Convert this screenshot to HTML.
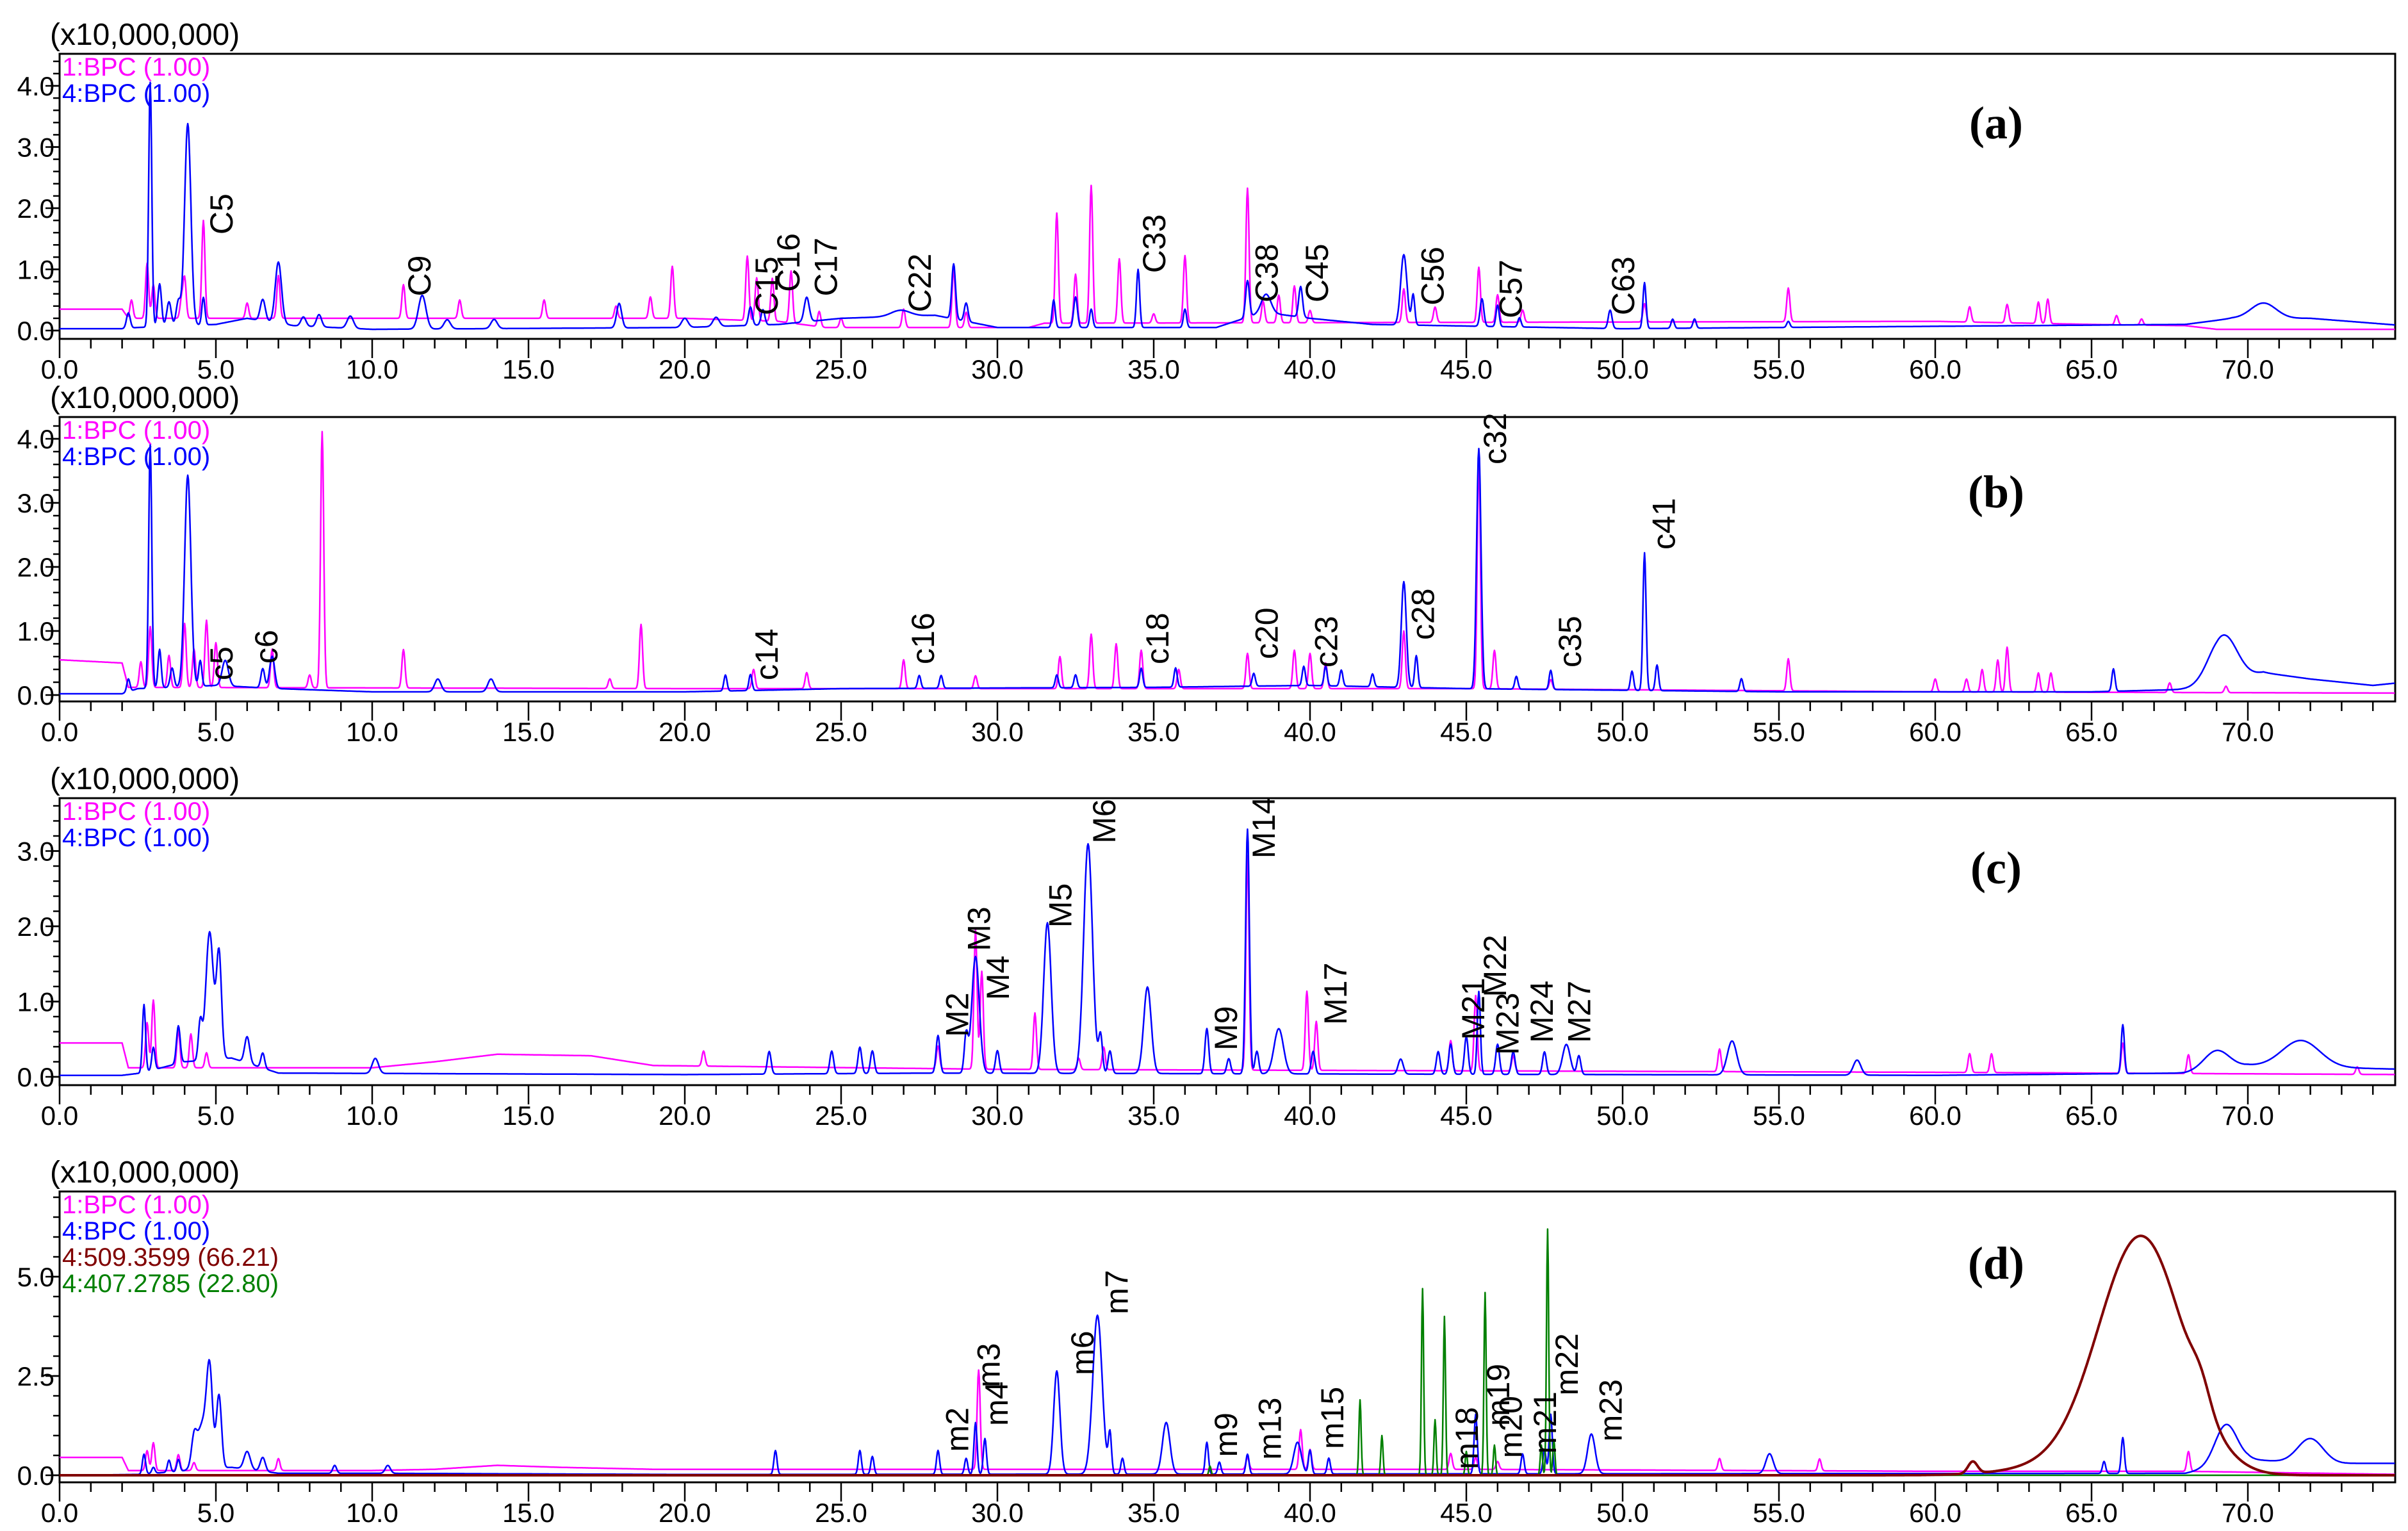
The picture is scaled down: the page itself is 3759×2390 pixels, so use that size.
<!DOCTYPE html>
<html><head><meta charset="utf-8">
<style>
html,body{margin:0;padding:0;background:#fff;}
svg{display:block;}
.tick{font-family:"Liberation Sans Narrow","Liberation Sans",sans-serif;font-size:42px;fill:#000;}
.scl{font-family:"Liberation Sans Narrow","Liberation Sans",sans-serif;font-size:48px;fill:#000;}
.leg{font-family:"Liberation Sans",sans-serif;font-size:40px;}
.ann{font-family:"Liberation Sans",sans-serif;font-size:50px;fill:#000;}
.plab{font-family:"Liberation Serif",serif;font-size:72px;font-weight:bold;fill:#000;}
</style></head>
<body>
<svg id="chart" width="3759" height="2390" viewBox="0 0 3759 2390" xmlns="http://www.w3.org/2000/svg"></svg>
<script>
// ---------- DATA ----------
// panel (a)
const aBlueRt=[2.2,2.9,3.2,3.5,3.8,4.1,4.6,6.5,7.0,7.8,8.3,9.3,11.6,12.4,13.9,17.9,20.0,21.0,22.1,22.5,23.9,26.9,28.6,29.0,31.8,32.5,33.0,34.5,36.0,38.0,38.6,39.7,43.0,43.3,45.5,46.0,46.7,49.6,50.7,51.6,52.3,55.3,70.5];
const aBlueH=[0.25,4.0,0.7,0.4,0.4,3.3,0.45,0.35,1.0,0.15,0.2,0.2,0.55,0.15,0.15,0.4,0.15,0.15,0.3,0.25,0.4,0.1,0.9,0.3,0.45,0.5,0.3,0.95,0.3,0.6,0.3,0.5,1.15,0.5,0.45,0.35,0.15,0.3,0.75,0.15,0.15,0.1,0.25];
const aBlueW=[0.06,0.05,0.06,0.07,0.07,0.1,0.05,0.08,0.1,0.08,0.08,0.1,0.12,0.1,0.1,0.08,0.1,0.1,0.06,0.06,0.08,0.3,0.06,0.06,0.05,0.06,0.05,0.05,0.05,0.06,0.15,0.06,0.1,0.05,0.06,0.05,0.05,0.06,0.05,0.05,0.05,0.05,0.4];
const aBlueBaseX=[0,2,2.5,5,6,7.5,10,20,23,25,28,30,37,38.5,40,42,50,55,68,69.5,72,75];
const aBlueBaseY=[0.03,0.03,0.05,0.1,0.2,0.08,0.02,0.05,0.1,0.2,0.25,0.05,0.05,0.3,0.2,0.1,0.03,0.05,0.1,0.2,0.2,0.08];
const aMagRt=[2.3,2.8,3.0,3.9,4.0,4.6,6.0,7.0,11.0,12.8,15.5,17.8,18.9,19.6,22.0,22.3,22.8,23.4,24.3,25.0,27.0,28.6,29.0,31.9,32.5,33.0,33.9,35.0,36.0,38.0,38.5,39.0,39.5,40.0,43.0,44.0,45.4,46.0,46.8,50.7,55.3,61.1,62.3,63.3,63.6,65.8,66.6];
const aMagH=[0.3,0.9,0.55,0.3,0.65,1.6,0.25,0.7,0.55,0.3,0.3,0.2,0.35,0.85,1.05,0.7,0.7,0.85,0.25,0.15,0.3,0.95,0.25,1.8,0.8,2.25,1.05,0.15,1.1,2.2,0.35,0.45,0.6,0.2,0.55,0.25,0.9,0.45,0.2,0.3,0.55,0.25,0.3,0.35,0.4,0.15,0.1];
const aMagBaseX=[0,2,2.2,4.8,20,23,24.5,31,31.5,60,65,68,69,75];
const aMagBaseY=[0.35,0.35,0.2,0.2,0.2,0.15,0.05,0.05,0.12,0.15,0.1,0.08,0.02,0.02];
// panel (b)
const bBlueRt=[2.2,2.9,3.2,3.6,4.1,4.5,5.3,6.5,6.8,12.1,13.8,21.3,22.1,27.5,28.2,31.9,32.5,34.6,35.7,38.2,39.8,40.5,41.0,42.0,43.0,43.4,45.4,46.6,47.7,50.3,50.7,51.1,53.8,65.7,69.2];
const bBlueH=[0.2,3.8,0.6,0.3,3.3,0.4,0.4,0.3,0.5,0.2,0.2,0.25,0.25,0.2,0.2,0.2,0.2,0.3,0.3,0.2,0.3,0.3,0.25,0.2,1.65,0.5,3.75,0.2,0.3,0.3,2.15,0.4,0.2,0.35,0.8];
const bBlueW=[0.05,0.05,0.05,0.06,0.1,0.05,0.1,0.06,0.08,0.1,0.1,0.05,0.05,0.05,0.05,0.05,0.05,0.05,0.05,0.05,0.05,0.05,0.05,0.05,0.08,0.05,0.07,0.05,0.05,0.05,0.05,0.05,0.05,0.05,0.45];
const bBlueBaseX=[0,2,2.5,5,7,10,20,25,35,40,45,55,65,69,70.5,72,74,75];
const bBlueBaseY=[0.02,0.02,0.1,0.15,0.1,0.05,0.05,0.1,0.12,0.15,0.1,0.05,0.05,0.1,0.35,0.25,0.15,0.2];
const bMagRt=[2.6,2.9,3.5,4.0,4.3,4.7,5.0,6.8,8.0,8.4,11.0,17.6,18.6,22.2,23.9,27.0,29.3,32.0,33.0,33.8,34.6,35.8,38.0,39.5,40.0,40.5,43.0,45.4,45.9,47.7,55.3,60.0,61.0,61.5,62.0,62.3,63.3,63.7,67.5,69.3];
const bMagH=[0.4,0.95,0.5,1.0,0.6,1.05,0.7,0.6,0.2,4.0,0.6,0.15,1.0,0.3,0.25,0.45,0.2,0.5,0.85,0.7,0.6,0.3,0.55,0.6,0.55,0.4,0.9,3.6,0.6,0.15,0.5,0.2,0.2,0.35,0.5,0.7,0.3,0.3,0.15,0.1];
const bMagBaseX=[0,2,2.2,20,45,60,75];
const bMagBaseY=[0.55,0.5,0.12,0.1,0.1,0.05,0.03];
// panel (c)
const cBlueRt=[2.7,3.0,3.8,4.5,4.8,5.1,6.0,6.5,10.1,22.7,24.7,25.6,26.0,28.1,29.0,29.3,30.0,31.6,32.9,33.3,33.6,34.8,36.7,37.4,38.0,38.3,39.0,40.1,42.9,44.1,44.5,45.0,45.4,46.0,46.5,47.5,48.2,48.6,53.5,57.5,66.0,69.0,71.7];
const cBlueH=[0.9,0.3,0.5,0.5,1.7,1.4,0.35,0.2,0.2,0.3,0.3,0.35,0.3,0.5,0.5,1.55,0.3,2.0,3.05,0.5,0.3,1.15,0.6,0.2,3.25,0.3,0.6,0.3,0.2,0.3,0.4,0.5,1.1,0.4,0.3,0.3,0.4,0.25,0.45,0.2,0.65,0.25,0.35];
const cBlueW=[0.05,0.05,0.06,0.06,0.12,0.08,0.08,0.06,0.1,0.06,0.06,0.06,0.06,0.06,0.06,0.12,0.06,0.12,0.14,0.06,0.06,0.12,0.06,0.06,0.06,0.06,0.15,0.06,0.08,0.06,0.06,0.06,0.05,0.06,0.06,0.06,0.12,0.06,0.15,0.12,0.05,0.4,0.6];
const cBlueBaseX=[0,2,2.6,4,5.5,7,20,28,60,68,70,75];
const cBlueBaseY=[0.02,0.02,0.05,0.2,0.25,0.05,0.03,0.05,0.02,0.05,0.15,0.1];
const cMagRt=[2.8,3.0,3.8,4.2,4.7,20.6,28.1,29.3,29.5,31.2,32.6,33.4,38.0,39.9,40.2,44.5,45.3,46.5,53.1,61.1,61.8,66.0,68.1,73.5];
const cMagH=[0.6,0.9,0.5,0.45,0.2,0.2,0.3,1.85,1.3,0.75,0.15,0.3,2.85,1.05,0.65,0.4,1.0,0.2,0.3,0.25,0.25,0.4,0.25,0.1];
const cMagBaseX=[0,2,2.2,10,12,14,17,19,30,45,60,75];
const cMagBaseY=[0.45,0.45,0.12,0.12,0.2,0.3,0.28,0.15,0.1,0.08,0.06,0.03];
// panel (d)
const dBlueRt=[2.7,3.0,3.5,3.8,4.3,4.6,4.8,5.1,6.0,6.5,8.8,10.5,22.9,25.6,26.0,28.1,29.0,29.3,29.6,31.9,33.2,33.6,34.0,35.4,36.7,37.1,38.0,39.6,40.0,40.6,45.3,46.8,47.5,47.7,49.0,54.7,65.4,66.0,69.3,72.0];
const dBlueH=[0.5,0.15,0.3,0.3,0.6,1.2,2.0,1.8,0.45,0.35,0.2,0.2,0.6,0.6,0.45,0.6,0.4,1.3,0.9,2.6,4.0,1.0,0.4,1.3,0.8,0.3,0.5,0.8,0.6,0.4,1.5,0.5,0.6,1.5,1.0,0.5,0.3,0.9,1.0,0.6];
const dBlueW=[0.05,0.05,0.05,0.05,0.08,0.2,0.09,0.08,0.1,0.08,0.06,0.08,0.05,0.05,0.05,0.05,0.05,0.05,0.05,0.1,0.15,0.05,0.05,0.12,0.05,0.05,0.05,0.12,0.05,0.05,0.05,0.05,0.05,0.05,0.12,0.12,0.05,0.05,0.35,0.4];
const dBlueBaseX=[0,2.5,5.5,7,10,20,68,70,71,73,75];
const dBlueBaseY=[0,0.02,0.2,0.05,0.05,0.02,0.05,0.4,0.35,0.3,0.3];
const dMagRt=[2.8,3.0,3.8,4.3,7.0,29.4,38.0,39.7,40.0,44.5,45.3,46.0,53.1,56.3,68.1];
const dMagH=[0.5,0.7,0.4,0.2,0.3,2.5,0.3,1.0,0.5,0.4,0.3,0.2,0.3,0.3,0.5];
const dMagBaseX=[0,2,2.2,10,12,14,16,19,30,45,60,68,75];
const dMagBaseY=[0.45,0.45,0.12,0.12,0.15,0.25,0.2,0.15,0.15,0.15,0.1,0.1,0.02];
const dGreenRt=[36.8,41.6,42.3,43.6,44.0,44.3,45.0,45.6,45.9,47.4,47.6,47.8];
const dGreenH=[0.23,1.9,1.0,4.7,1.4,4.0,0.6,4.6,0.76,0.76,6.2,0.9];
const dRedRt=[61.2,64.5,66.6,68.5];
const dRedH=[0.3,0.25,5.9,0.5];
const dRedW=[0.15,1.8,1.35,0.3];
// annotations
const aAnnText=["C5","C9","C15","C16","C17","C22","C33","C38","C45","C56","C57","C63"];
const aAnnRt=[5.16,11.5,22.6,23.3,24.5,27.5,35.0,38.6,40.2,43.9,46.4,50.0];
const aAnnV=[1.57,0.56,0.25,0.63,0.56,0.30,0.94,0.46,0.46,0.41,0.20,0.25];
const bAnnText=["c5","c6","c14","c16","c18","c20","c23","c28","c32","c35","c41"];
const bAnnRt=[5.16,6.6,22.6,27.6,35.1,38.6,40.5,43.6,45.9,48.3,51.3];
const bAnnV=[0.23,0.49,0.23,0.48,0.48,0.56,0.43,0.86,3.6,0.43,2.27];
const cAnnText=["M2","M3","M4","M5","M6","M9","M14","M17","M21","M22","M23","M24","M27"];
const cAnnRt=[28.7,29.4,30.0,32.0,33.4,37.3,38.5,40.8,45.2,45.9,46.3,47.4,48.6];
const cAnnV=[0.53,1.67,1.02,1.98,3.1,0.35,2.9,0.69,0.49,1.06,0.29,0.45,0.45];
const dAnnText=["m2","m3","m4","m6","m7","m9","m13","m15","m18","m19","m20","m21","m22","m23"];
const dAnnRt=[28.7,29.7,29.96,32.7,33.8,37.3,38.7,40.7,45.0,46.0,46.4,47.5,48.2,49.6];
const dAnnV=[0.59,2.21,1.24,2.52,4.05,0.46,0.39,0.66,0.15,1.24,0.43,0.54,2.01,0.85];
const xTickLabels=["0.0","5.0","10.0","15.0","20.0","25.0","30.0","35.0","40.0","45.0","50.0","55.0","60.0","65.0","70.0"];

// ---------- LAYOUT ----------
const NS="http://www.w3.org/2000/svg";
const svg=document.getElementById('chart');
const X0=93, PXMIN=48.8, XR=3739, XMAX=(XR-X0)/PXMIN;
function xs(t){return X0+t*PXMIN;}
const panels=[
 {id:'a',top:84,zero:516,unit:95.5,axis:529,major:1,minor:0.2,dec:1,letterY:192,
  series:[
   {name:'sample1-bpc',color:'#ff00ff',rt:aMagRt,h:aMagH,w:null,bx:aMagBaseX,by:aMagBaseY},
   {name:'sample4-bpc',color:'#0000ff',rt:aBlueRt,h:aBlueH,w:aBlueW,bx:aBlueBaseX,by:aBlueBaseY}],
  legend:[['1:BPC (1.00)','#ff00ff'],['4:BPC (1.00)','#0000ff']],
  ann:[aAnnText,aAnnRt,aAnnV]},
 {id:'b',top:651,zero:1085,unit:100,axis:1095,major:1,minor:0.2,dec:1,letterY:768,
  series:[
   {name:'sample1-bpc',color:'#ff00ff',rt:bMagRt,h:bMagH,w:null,bx:bMagBaseX,by:bMagBaseY},
   {name:'sample4-bpc',color:'#0000ff',rt:bBlueRt,h:bBlueH,w:bBlueW,bx:bBlueBaseX,by:bBlueBaseY}],
  legend:[['1:BPC (1.00)','#ff00ff'],['4:BPC (1.00)','#0000ff']],
  ann:[bAnnText,bAnnRt,bAnnV]},
 {id:'c',top:1246,zero:1681,unit:117.5,axis:1694,major:1,minor:0.2,dec:1,letterY:1355,
  series:[
   {name:'sample1-bpc',color:'#ff00ff',rt:cMagRt,h:cMagH,w:null,bx:cMagBaseX,by:cMagBaseY},
   {name:'sample4-bpc',color:'#0000ff',rt:cBlueRt,h:cBlueH,w:cBlueW,bx:cBlueBaseX,by:cBlueBaseY}],
  legend:[['1:BPC (1.00)','#ff00ff'],['4:BPC (1.00)','#0000ff']],
  ann:[cAnnText,cAnnRt,cAnnV]},
 {id:'d',top:1860,zero:2303,unit:62,axis:2314,major:2.5,minor:0.5,dec:1,letterY:1972,
  series:[
   {name:'sample1-bpc',color:'#ff00ff',rt:dMagRt,h:dMagH,w:null,bx:dMagBaseX,by:dMagBaseY},
   {name:'sample4-bpc',color:'#0000ff',rt:dBlueRt,h:dBlueH,w:dBlueW,bx:dBlueBaseX,by:dBlueBaseY},
   {name:'mz407-trace',color:'#008000',rt:dGreenRt,h:dGreenH,w:null,dw:0.035,bx:[0,75],by:[0,0]},
   {name:'mz509-trace',color:'#800000',rt:dRedRt,h:dRedH,w:dRedW,bx:[0,75],by:[0,0],sw:4}],
  legend:[['1:BPC (1.00)','#ff00ff'],['4:BPC (1.00)','#0000ff'],['4:509.3599 (66.21)','#800000'],['4:407.2785 (22.80)','#008000']],
  ann:[dAnnText,dAnnRt,dAnnV]}
];

function mk(tag,attrs,parent){const e=document.createElementNS(NS,tag);for(const k in attrs)e.setAttribute(k,attrs[k]);(parent||svg).appendChild(e);return e;}
function baseAt(bx,by,t){
  if(t<=bx[0])return by[0];
  for(let i=1;i<bx.length;i++){if(t<=bx[i]){const f=(t-bx[i-1])/(bx[i]-bx[i-1]);return by[i-1]+f*(by[i]-by[i-1]);}}
  return by[by.length-1];
}

panels.forEach(p=>{
  const g=mk('g',{});
  
  
  const ys=v=>p.zero-v*p.unit;
  const topVal=(p.zero-p.top)/p.unit;
  const fr=mk('rect',{x:X0,y:p.top,width:XR-X0,height:p.axis-p.top,fill:'none',stroke:'#000','stroke-width':3},g);
  
  
  const sl=mk('text',{x:78,y:p.top-14,class:'scl'},g);sl.textContent='(x10,000,000)';
  
  
  const nMinor=Math.floor(topVal/p.minor+1e-6);
  for(let i=0;i<=nMinor;i++){
    const v=i*p.minor,y=ys(v);
    mk('line',{x1:X0-10,x2:X0,y1:y,y2:y,stroke:'#000','stroke-width':2.5},g);
  }
  for(let v=0;v<=topVal+1e-6;v+=p.major){
    const y=ys(v);
    mk('line',{x1:X0-22,x2:X0,y1:y,y2:y,stroke:'#000','stroke-width':2.5},g);
    const t=mk('text',{x:X0-8,y:y+15,'text-anchor':'end',class:'tick'},g);
    t.textContent=v.toFixed(p.dec);
    
    
  }
  for(let m=0;m<=74;m++){
    const x=xs(m),maj=(m%5===0);
    mk('line',{x1:x,x2:x,y1:p.axis,y2:p.axis+(maj?30:15),stroke:'#000','stroke-width':2.5},g);
  }
  xTickLabels.forEach((lab,i)=>{
    const t=mk('text',{x:xs(i*5),y:p.axis+62,'text-anchor':'middle',class:'tick'},g);
    t.textContent=lab;
    
    
  });
  p.series.forEach(s=>{
    let d='';
    for(let t=0;t<=XMAX+1e-9;t+=0.02){
      let v=baseAt(s.bx,s.by,t);
      for(let i=0;i<s.rt.length;i++){
        const w=s.w?s.w[i]:(s.dw||0.05);
        const dt=t-s.rt[i];
        if(Math.abs(dt)<6*w)v+=s.h[i]*Math.exp(-dt*dt/(2*w*w));
      }
      d+=(d?'L':'M')+xs(t).toFixed(1)+' '+Math.max(ys(v),p.top+2).toFixed(1);
    }
    const path=mk('path',{d:d,fill:'none',stroke:s.color,'stroke-width':s.sw||2.5,'stroke-linejoin':'round'},g);
    
    
  });
  p.legend.forEach((l,i)=>{
    const t=mk('text',{x:X0+4,y:p.top+34+i*41,fill:l[1],class:'leg'},g);
    t.textContent=l[0];
    
    
  });
  const [txt,rt,vv]=p.ann;
  txt.forEach((s,i)=>{
    const x=xs(rt[i])+18,y=ys(vv[i]);
    const t=mk('text',{x:x,y:y,transform:'rotate(-90 '+x.toFixed(1)+' '+y.toFixed(1)+')',class:'ann'},g);
    t.textContent=s;
    
    
  });
  const pl=mk('text',{x:3116,y:p.letterY+24,'text-anchor':'middle',class:'plab'},g);
  pl.textContent='('+p.id+')';
  
  
});
</script>
</body></html>
